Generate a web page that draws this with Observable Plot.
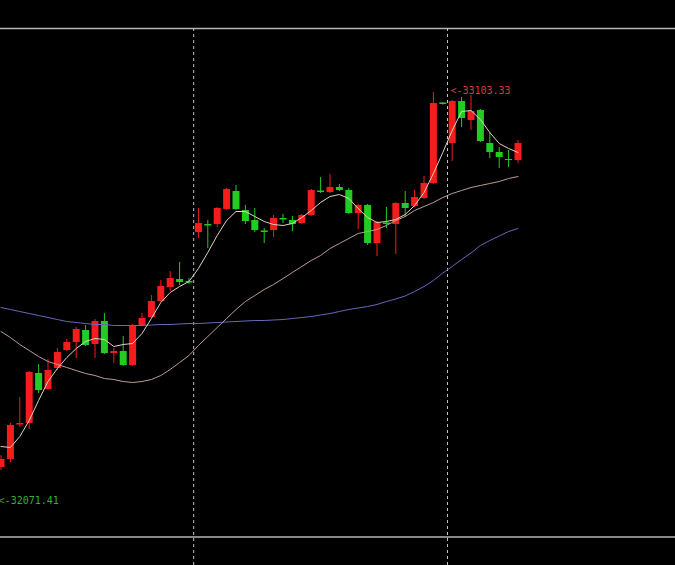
<!DOCTYPE html>
<html>
<head>
<meta charset="utf-8">
<script src="https://cdn.jsdelivr.net/npm/d3@7"></script>
<script src="https://cdn.jsdelivr.net/npm/@observablehq/plot@0.6"></script>
<style>
  html, body { margin: 0; padding: 0; background: #000; overflow: hidden; }
  #chart svg { display: block; }
</style>
</head>
<body>
<div id="chart"></div>
<script>
// ---- Data ----
const opens  = [32165.83,32185.83,32272.08,32275.83,32400.83,32360.83,32413.33,32458.33,32478.33,32508.33,
                32473.33,32530.83,32450.83,32455.83,32420.83,32520.83,32540.83,32580.83,32615.83,32635.83,
                32630.83,32753.33,32773.33,32773.33,32810.83,32855.83,32808.33,32783.33,32757.08,32758.33,
                32788.33,32783.33,32775.83,32795.83,32857.08,32853.33,32865.83,32858.33,32800.83,32820.83,
                32725.83,32777.08,32773.33,32825.83,32818.33,32838.33,32875.83,33077.08,32975.83,33080.83,
                33033.33,33058.33,32975.83,32953.33,32935.83,32933.33];
const highs  = [32195.83,32275.83,32340.83,32405.83,32423.33,32435.83,32463.33,32485.83,32515.83,32520.83,
                32535.83,32550.83,32463.33,32493.33,32523.33,32550.83,32595.83,32633.33,32655.83,32678.33,
                32638.33,32813.33,32783.33,32815.83,32863.33,32870.83,32820.83,32813.33,32763.33,32795.83,
                32798.33,32793.33,32798.33,32860.83,32890.83,32898.33,32873.33,32863.33,32823.33,32823.33,
                32780.83,32815.83,32828.33,32855.83,32858.33,32893.33,33103.33,33078.33,33083.33,33090.83,
                33095.83,33060.83,33003.33,32965.83,32958.33,32983.33];
const lows   = [32158.33,32178.33,32265.83,32260.83,32350.83,32358.33,32408.33,32455.83,32438.33,32468.33,
                32438.33,32448.33,32425.83,32418.33,32418.33,32518.33,32538.33,32578.33,32605.83,32620.83,
                32623.33,32738.33,32713.33,32765.83,32808.33,32808.33,32773.33,32753.33,32725.83,32740.83,
                32775.83,32755.83,32773.33,32793.33,32850.83,32850.83,32855.83,32798.33,32760.83,32720.83,
                32693.33,32763.33,32698.33,32790.83,32815.83,32835.83,32873.33,33072.08,32930.83,33015.83,
                33008.33,32978.33,32938.33,32913.33,32915.83,32925.83];
const closes = [32185.83,32270.83,32275.83,32403.33,32358.33,32408.33,32453.33,32478.33,32510.83,32470.83,
                32530.83,32450.83,32455.83,32420.83,32520.83,32538.33,32580.83,32618.33,32638.33,32628.33,
                32627.08,32775.83,32769.58,32813.33,32860.83,32810.83,32780.83,32758.33,32753.33,32788.33,
                32784.58,32773.33,32795.83,32858.33,32853.33,32865.83,32858.33,32800.83,32820.83,32725.83,
                32778.33,32773.33,32825.83,32813.33,32840.83,32875.83,33075.83,33073.33,33080.83,33038.33,
                33055.83,32980.83,32953.33,32940.83,32933.33,32975.83];

const maFast = [32218.3,32215.8,32243.3,32283.3,32333.3,32380.8,32413.3,32440.8,32463.3,32480.8,
                32488.3,32485.8,32468.3,32473.3,32475.8,32500.8,32538.3,32578.3,32603.3,32618.3,
                32630.8,32663.3,32703.3,32745.8,32783.3,32805.8,32805.8,32793.3,32780.8,32773.3,
                32770.8,32775.8,32790.8,32808.3,32828.3,32843.3,32848.3,32838.3,32813.3,32790.8,
                32778.3,32780.8,32785.8,32798.3,32820.8,32853.3,32900.8,32953.3,33008.3,33055.8,
                33058.3,33035.8,33003.3,32975.8,32963.3,32953.3];
const maMid  = [32505.8,32490.8,32473.3,32458.3,32443.3,32430.8,32423.3,32415.8,32408.3,32400.8,
                32395.8,32388.3,32385.8,32380.8,32378.3,32380.8,32385.8,32395.8,32410.8,32428.3,
                32445.8,32470.8,32493.3,32515.8,32538.3,32560.8,32580.8,32595.8,32610.8,32623.3,
                32638.3,32653.3,32668.3,32683.3,32695.8,32713.3,32725.8,32738.3,32750.8,32755.8,
                32760.8,32770.8,32783.3,32793.3,32808.3,32818.3,32828.3,32840.8,32850.8,32858.3,
                32865.8,32870.8,32875.8,32880.8,32888.3,32893.3];
const maSlow = [32565.8,32560.8,32555.8,32550.8,32545.8,32540.8,32535.8,32530.8,32528.3,32525.8,
                32523.3,32523.3,32520.8,32520.8,32520.8,32520.8,32522.1,32523.3,32523.3,32524.6,
                32525.8,32525.8,32527.1,32528.3,32529.6,32530.8,32532.1,32533.3,32533.3,32534.6,
                32535.8,32538.3,32540.8,32543.3,32547.1,32550.8,32555.8,32560.8,32564.6,32568.3,
                32573.3,32580.8,32587.1,32594.6,32605.8,32618.3,32633.3,32652.1,32668.3,32685.8,
                32702.1,32720.8,32733.3,32744.6,32755.8,32763.3];

const separators = [20.5, 47.5];            // period separators (bar positions)
const rangeLines = [33263.3, 31992.1];      // horizontal lines
const highMark = {i: 46, price: 33103.33};
const lowMark  = {i: -1, price: 32071.41};

// ---- Build tables ----
const bars = opens.map((o, i) => ({i, open: o, high: highs[i], low: lows[i], close: closes[i]}));
const lineTable = (arr) => arr.map((v, i) => ({i, v}));

const RED = "#f41c1c", GREEN = "#22cc22";
const col = d => d.close >= d.open ? RED : GREEN;

const chart = Plot.plot({
  width: 675,
  height: 565,
  margin: 0,
  x: {domain: [-0.053, 71.755], axis: null},
  y: {domain: [31920.83, 33333.33], axis: null},
  style: {background: "#000"},
  marks: [
    Plot.ruleY(rangeLines, {stroke: "#b4b4b4", strokeWidth: 1.5}),
    Plot.ruleX(separators, {y1: rangeLines[0], y2: 31920.83, stroke: "#c4c4c4", strokeDasharray: "3,3"}),
    Plot.ruleX(bars, {x: "i", y1: "low", y2: "high", stroke: col, strokeWidth: 1}),
    Plot.ruleX(bars, {x: "i", y1: "open", y2: "close", stroke: col, strokeWidth: 7}),
    Plot.line(lineTable(maSlow), {x: "i", y: "v", stroke: "#6868b8", strokeWidth: 1}),
    Plot.line(lineTable(maMid),  {x: "i", y: "v", stroke: "#bc9c92", strokeWidth: 1}),
    Plot.line(lineTable(maFast), {x: "i", y: "v", stroke: "#ddd3c6", strokeWidth: 1}),
    Plot.text([highMark], {x: "i", y: "price", text: d => "<-" + d.price.toFixed(2),
      fill: "#d83a3a", textAnchor: "start", dx: 17, dy: -2, fontSize: 10,
      fontFamily: "DejaVu Sans Mono, monospace"}),
    Plot.text([lowMark], {x: "i", y: "price", text: d => "<-" + d.price.toFixed(2),
      fill: "#34b034", textAnchor: "start", dx: 7, dy: -4, fontSize: 10,
      fontFamily: "DejaVu Sans Mono, monospace"})
  ]
});
document.getElementById("chart").appendChild(chart);
</script>
</body>
</html>
